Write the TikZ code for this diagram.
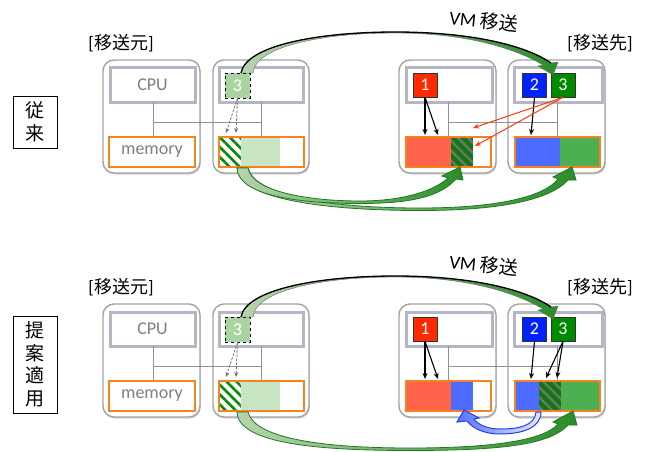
\documentclass[tikz,border=0pt]{standalone}
\usepackage{fontspec}
\setmainfont{Carlito}
\newfontfamily\cjk{Noto Sans CJK JP}
\usetikzlibrary{arrows.meta,patterns.meta,shadows}
\definecolor{hostgray}{HTML}{A3A3A3}
\definecolor{cpuframe}{HTML}{B4B7C3}
\definecolor{memorange}{HTML}{F5831F}
\definecolor{txtgray}{HTML}{7F7F7F}
\definecolor{busgray}{HTML}{929292}
\definecolor{redbox}{HTML}{FF2A00}
\definecolor{bluebox}{HTML}{0022FF}
\definecolor{greenbox}{HTML}{008A00}
\definecolor{redmem}{HTML}{FF634A}
\definecolor{bluemem}{HTML}{4D6BFF}
\definecolor{greenmem}{HTML}{4CAF50}
\definecolor{palegreen}{HTML}{C8E6C2}
\definecolor{dashgreen}{HTML}{A9D4A0}
\definecolor{hatchgreen}{HTML}{0A8A0A}
\definecolor{darkhatch}{HTML}{0E7A0E}
\definecolor{arrowred}{HTML}{FF3B10}
\definecolor{ribbonlight}{HTML}{B9D3AE}
\definecolor{ribbondark}{HTML}{2A8C2A}
\definecolor{ribbonedge}{HTML}{1F7A1F}
\definecolor{blueedge}{HTML}{2040FF}
\begin{document}
\begin{tikzpicture}[x=1pt,y=-1pt,
  hostbox/.style={draw=hostgray, line width=1.4pt, fill=white, rounded corners=11pt,
    drop shadow={shadow xshift=0.8pt,shadow yshift=-1.5pt,opacity=0.3,fill=black!60}},
  cpubox/.style={draw=cpuframe, line width=3pt, fill=white},
  membox/.style={draw=memorange, line width=2.5pt},
  bus/.style={draw=busgray, line width=1pt},
  numbox/.style={draw=black!80, line width=0.6pt, minimum width=24pt, minimum height=24pt,
    inner sep=0pt, text=white, font=\fontsize{18}{18}\selectfont},
  graytext/.style={text=txtgray, font=\fontsize{18}{18}\selectfont},
  labeltext/.style={font=\fontsize{18}{18}\selectfont},
  sidelabel/.style={draw=black, line width=0.8pt, minimum width=44pt, align=center, inner sep=0pt,
    font=\cjk\fontsize{19}{22.5}\selectfont},
  blk/.style={draw=black, line width=1.1pt, -{Stealth[length=6pt,width=5pt]}},
  redarr/.style={draw=arrowred, line width=1pt, -{Stealth[length=6pt,width=5pt]}},
  dasharr/.style={draw=black!55, line width=0.8pt, dash pattern=on 2.5pt off 1.5pt, -{Stealth[length=5pt,width=4pt]}},
  srchatch/.style={pattern={Lines[angle=-45,distance=7pt,line width=2.6pt]}, pattern color=hatchgreen},
  dsthatch/.style={pattern={Lines[angle=-45,distance=7pt,line width=2.4pt]}, pattern color=black!55},
  ribbon/.style={draw=ribbonedge, line width=0.8pt, left color=ribbonlight, right color=ribbondark},
  bribbon/.style={draw=blueedge, line width=1pt, left color=blueedge!75, right color=black!8},
]
\useasboundingbox (0,0) rectangle (645,452);

% side labels
\node[sidelabel, minimum height=52pt] (lblA) at (35,122) {従\\来};
\node[sidelabel, minimum height=97pt] (lblB) at (35,364.5) {提\\案\\適\\用};

% common structure, both rows
\foreach \r/\dy in {a/0,b/244}{
\begin{scope}[shift={(0,\dy)}]
  \path[hostbox] (103,60) rectangle (200,173);
  \path[hostbox] (213,60) rectangle (309,173);
  \path[hostbox] (399,60) rectangle (496,173);
  \path[hostbox] (508,60) rectangle (605,173);
  \path[cpubox] (110,68) rectangle (195,102);
  \path[cpubox] (219,68) rectangle (303,102);
  \path[cpubox] (406,68) rectangle (492,102);
  \path[cpubox] (514,68) rectangle (602,102);
  \path[bus] (153,102) -- (153,137) (153,122) -- (261,122) (261,102) -- (261,137);
  \path[bus] (448,102) -- (448,137) (448,122) -- (557,122) (557,102) -- (557,137);
  \node[graytext] (cpu\r) at (152.5,85) {CPU};
  \node[labeltext] (src\r) at (121,43) {[{\cjk 移送元}]};
  \node[labeltext] (dst\r) at (600,43) {[{\cjk 移送先}]};
  \node[font=\fontsize{19}{19}\selectfont, rotate=-6] (vm\r) at (484,21) {VM {\cjk 移送}};
  % source memory (same in both rows)
  \path[fill=white, srchatch] (219,137) rectangle (241,167);
  \path[fill=palegreen] (241,137) rectangle (280,167);
\end{scope}
}

% row a destination memory contents
\path[fill=redmem] (406,137) rectangle (451,167);
\path[fill=darkhatch] (451,137) rectangle (473,167);
\path[dsthatch] (451,137) rectangle (473,167);
\path[fill=bluemem] (515,137) rectangle (560,167);
\path[fill=greenmem] (560,137) rectangle (600,167);

% row b destination memory contents
\path[fill=redmem] (406,381) rectangle (451,411);
\path[fill=bluemem] (451,381) rectangle (473,411);
\path[fill=bluemem] (515,381) rectangle (539,411);
\path[fill=darkhatch] (539,381) rectangle (561,411);
\path[dsthatch] (539,381) rectangle (561,411);
\path[fill=greenmem] (561,381) rectangle (600,411);

% memory frames, boxes
\foreach \r/\dy in {a/0,b/244}{
\begin{scope}[shift={(0,\dy)}]
  \path[membox] (109,137) rectangle (195,167);
  \path[membox] (219,137) rectangle (304,167);
  \path[membox] (406,137) rectangle (491,167);
  \path[membox] (515,137) rectangle (600,167);
  \node[graytext] (mem\r) at (152,152) {memory};
  \node[numbox, fill=dashgreen, draw=black, dashed, minimum width=25pt, minimum height=25pt] (three\r) at (237.5,85.5) {3};
  \node[numbox, fill=redbox] (one\r) at (425,85) {1};
  \node[numbox, fill=bluebox] (two\r) at (534.5,85) {2};
  \node[numbox, fill=greenbox] (gr\r) at (563,85) {3};
  \coordinate (d1\r) at (226,133);
  \coordinate (d2\r) at (236,133);
  \coordinate (o1\r) at (425,135);
  \coordinate (o2\r) at (438,135);
  \coordinate (t1\r) at (531,135);
  \path[dasharr] (three\r.south) -- (d1\r);
  \path[dasharr] (three\r.south) -- (d2\r);
  \path[blk] (one\r.south) -- (o1\r);
  \path[blk] (one\r.south) -- (o2\r);
  \path[blk] (two\r.south) -- (t1\r);
  % VM migration ribbon arrow
  \path[ribbon, draw=black!60, line width=0.4pt] (241,73) .. controls (246,45) and (320,32) .. (395,32)
     .. controls (470,32) and (525,45) .. (551,63) -- (558,62) -- (553,75) -- (538,66) -- (543,65)
     .. controls (518,50) and (470,33) .. (395,33)
     .. controls (320,33) and (255,47) .. (253,73) -- cycle;
  \draw[black, line width=1.3pt] (241,73) .. controls (246,45) and (320,32) .. (395,32)
     .. controls (470,32) and (525,45) .. (551,63);
\end{scope}
}

% row a: red arrows from 3 to host-3 memory
\coordinate (r1) at (473,128);
\coordinate (r2) at (475,146);
\path[redarr] (gra.south) -- (r1);
\path[redarr] (gra.south) -- (r2);

% row b: black arrows from 3
\coordinate (g1b) at (546,378);
\coordinate (g2b) at (557,378);
\path[blk] (grb.south) -- (g1b);
\path[blk] (grb.south) -- (g2b);

% row a: memory copy ribbons
\path[ribbon] (248,168) .. controls (255,196) and (330,208) .. (420,208)
   .. controls (500,208) and (545,196) .. (558,179) -- (553,177) -- (572,167) -- (576,180) -- (568,180)
   .. controls (550,200) and (500,210.5) .. (420,210.5)
   .. controls (320,210.5) and (238,198) .. (237,168) -- cycle;
\path[ribbon] (248,168) .. controls (252,192) and (310,201) .. (360,201)
   .. controls (405,201) and (435,190) .. (448,178) -- (442,176) -- (460,167) -- (463,180) -- (456,179)
   .. controls (440,197) and (410,203.5) .. (360,203.5)
   .. controls (300,203.5) and (238,196) .. (237,168) -- cycle;

% row b: memory copy ribbon
\path[ribbon] (248,412) .. controls (255,440) and (330,448) .. (410,448)
   .. controls (500,448) and (545,439) .. (558,424) -- (553,422) -- (573,411) -- (577,425) -- (568,425)
   .. controls (550,445) and (500,450.5) .. (410,450.5)
   .. controls (320,450.5) and (238,444) .. (237,412) -- cycle;

% row b: blue move ribbon
\path[bribbon] (536,412) .. controls (535,426) and (518,429) .. (500,429)
   .. controls (488,429) and (478,425) .. (474,419) -- (479,418) -- (464,410) -- (457,422) -- (467,421)
   .. controls (474,430) and (487,434) .. (500,434)
   .. controls (522,434) and (541,428) .. (541,412) -- cycle;
\end{tikzpicture}
\end{document}
